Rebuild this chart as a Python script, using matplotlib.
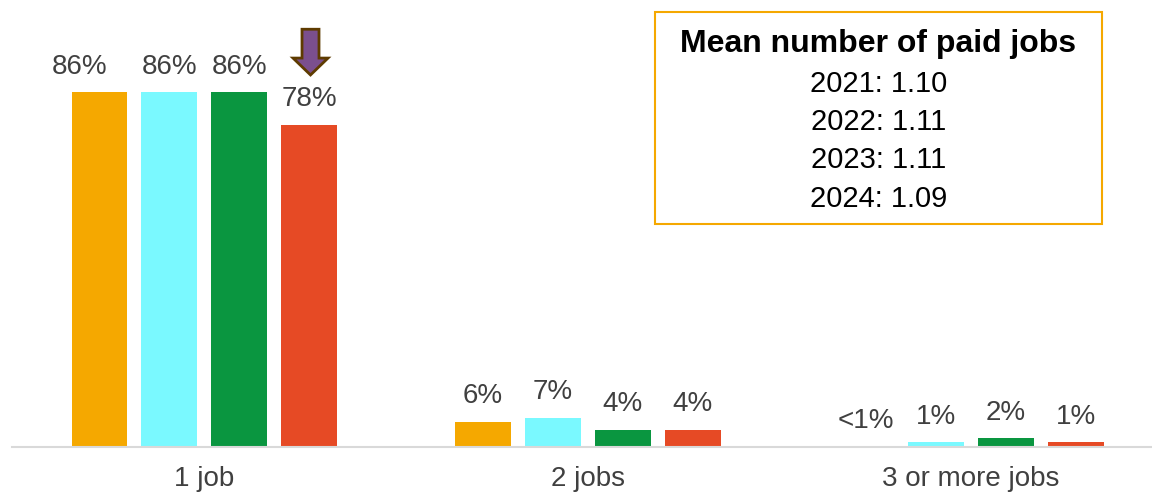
import matplotlib
matplotlib.use("Agg")
from matplotlib import pyplot as plt
from matplotlib.patches import Rectangle, FancyArrow
import numpy as np

plt.rcParams['font.family'] = ['Liberation Sans', 'DejaVu Sans']

# Data
categories = ['1 job', '2 jobs', '3 or more jobs']
years = ['2021', '2022', '2023', '2024']
values_2021 = [86, 6, 0]
values_2022 = [86, 7, 1]
values_2023 = [86, 4, 2]
values_2024 = [78, 4, 1]
mean_jobs = ['1.10', '1.11', '1.11', '1.09']

series = [values_2021, values_2022, values_2023, values_2024]
colors = ['#F5A800', '#7AF9FF', '#0A9640', '#E64A25']
label_color = '#404040'

W, H = 1152, 495
fig = plt.figure(figsize=(W / 100, H / 100), dpi=100)
ax = fig.add_axes([12 / W, 48.5 / H, 1140 / W, 446.5 / H])

x = np.arange(len(categories))
bar_w = 0.146
step = 0.1825
offsets = (np.arange(4) - 1.5) * step

for si, (vals, off, col) in enumerate(zip(series, offsets, colors)):
    bars = ax.bar(x + off, vals, width=bar_w, color=col)
    for ci, (b, v) in enumerate(zip(bars, vals)):
        lab = f'{v}%' if v >= 1 else '<1%'
        # the first label sits a little to the left in the original
        dx = -14 if (si == 0 and ci == 0) else 0
        ax.annotate(lab, (b.get_x() + b.get_width() / 2, v),
                    xytext=(dx, 13.5), textcoords='offset points',
                    ha='center', va='baseline', fontsize=20, color=label_color)

# arrow above the 2024 "1 job" bar
ax.add_patch(FancyArrow(x[0] + offsets[3] + 0.003, values_2024[0] + 23.3, 0, -11.1,
                        width=0.0443, head_width=0.0913, head_length=4.1,
                        length_includes_head=True, facecolor='#7B4F8E',
                        edgecolor='#5E3B00', linewidth=2, zorder=5))

ax.set_xlim(-0.502, 2.472)
ax.set_ylim(0, 108.4)
ax.set_xticks(x)
ax.set_xticklabels(categories, fontsize=20, color=label_color)
ax.tick_params(axis='x', length=0, pad=14)
ax.set_yticks([])
for s in ['top', 'right', 'left']:
    ax.spines[s].set_visible(False)
ax.spines['bottom'].set_color('#D9D9D9')
ax.spines['bottom'].set_linewidth(1.5)

# mean number box
fig.patches.append(Rectangle((655 / W, 1 - 224 / H), 447 / W, 212 / H,
                             transform=fig.transFigure, fill=False,
                             edgecolor='#F5A800', linewidth=1.5))
cx = 878.5 / W
fig.text(cx, 1 - 51.7 / H, 'Mean number of paid jobs', ha='center', va='baseline',
         fontsize=23, fontweight='bold', color='black')
for i, (yr, m) in enumerate(zip(years, mean_jobs)):
    fig.text(cx, 1 - (91.7 + 38.3 * i) / H, f'{yr}: {m}', ha='center', va='baseline',
             fontsize=21, color='black')

fig.savefig('out.png', dpi=100)
